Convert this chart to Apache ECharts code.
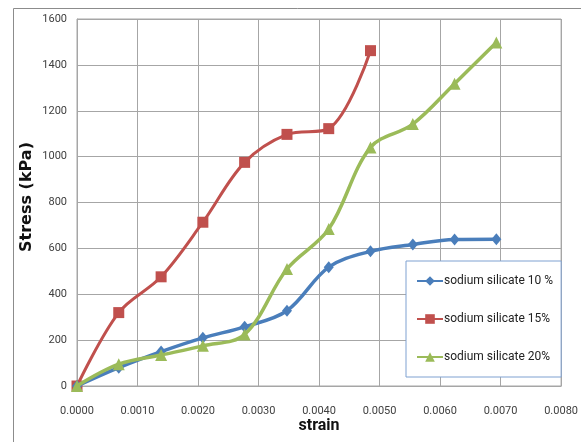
<!DOCTYPE html>
<html>
<head>
<meta charset="utf-8">
<script src="https://cdn.jsdelivr.net/npm/echarts@6/dist/echarts.min.js"></script>
<style>
  html, body { margin: 0; padding: 0; background: #fff; }
  #chart { width: 581px; height: 442px; }
</style>
</head>
<body>
<div id="chart"></div>
<script>
// Strain readings (shared by all three mixes)
var strain = [0, 0.00069, 0.00139, 0.00208, 0.00277, 0.00347, 0.00416, 0.00485, 0.00555, 0.00624, 0.00693];

// Stress (kPa) for each sodium silicate content
var stress10 = [0, 80, 150, 210, 258, 328, 518, 587, 617, 639, 640];
var stress15 = [0, 320, 476, 714, 975, 1097, 1122, 1462];
var stress20 = [0, 95, 135, 175, 225, 510, 684, 1040, 1142, 1318, 1498];

var seriesNames = ['sodium silicate 10 %', 'sodium silicate 15%', 'sodium silicate 20%'];
var xTicks = { min: 0, max: 0.008, step: 0.001 };
var yTicks = { min: 0, max: 1600, step: 200 };

function pairs(values) {
  return values.map(function (v, i) { return [strain[i], v]; });
}

var labelFont = '"Liberation Sans Narrow", Roboto, sans-serif';
var chart = echarts.init(document.getElementById('chart'), null, { renderer: 'canvas' });

chart.setOption({
  animation: false,
  backgroundColor: '#fff',
  grid: { left: 77, top: 19, right: 19, bottom: 56, show: true, borderColor: '#a6a6a6', borderWidth: 1 },
  xAxis: {
    type: 'value',
    min: xTicks.min, max: xTicks.max, interval: xTicks.step,
    axisLine: { show: true, onZero: false, lineStyle: { color: '#a6a6a6' } },
    axisTick: { show: false },
    splitLine: { show: true, lineStyle: { color: '#a6a6a6', width: 1 } },
    axisLabel: {
      color: '#404040', fontFamily: labelFont, fontSize: 11, margin: 20,
      formatter: function (v) { return v.toFixed(4); }
    }
  },
  yAxis: {
    type: 'value',
    min: yTicks.min, max: yTicks.max, interval: yTicks.step,
    axisLine: { show: true, lineStyle: { color: '#a6a6a6' } },
    axisTick: { show: false },
    splitLine: { show: true, lineStyle: { color: '#a6a6a6', width: 1 } },
    axisLabel: {
      color: '#404040', fontFamily: labelFont, fontSize: 11, margin: 10,
      formatter: function (v) { return String(v); }
    }
  },
  legend: {
    orient: 'vertical',
    left: 406, top: 261,
    width: 156,
    padding: [14, 8, 14, 10],
    itemGap: 26,
    itemWidth: 26, itemHeight: 12,
    backgroundColor: '#fff',
    borderColor: '#7ea1d1',
    borderWidth: 1,
    textStyle: { fontFamily: labelFont, fontSize: 12, color: '#222', padding: [0, 10, 0, -4] },
    data: seriesNames
  },
  graphic: [
    {
      type: 'rect', silent: true, z: -1,
      shape: { x: 13.5, y: 8.5, width: 620, height: 500 },
      style: { fill: 'none', stroke: '#8c8c8c', lineWidth: 1 }
    },
    {
      type: 'text', x: 27, y: 197, rotation: Math.PI / 2,
      style: {
        text: 'Stress (kPa)', fill: '#111', font: 'bold 16px "DejaVu Sans"',
        textAlign: 'center', textVerticalAlign: 'middle'
      }
    },
    {
      type: 'text', x: 319, y: 426,
      style: {
        text: 'strain', fill: '#111', font: 'bold 16px Roboto',
        textAlign: 'center', textVerticalAlign: 'middle'
      }
    }
  ],
  series: [
    {
      name: seriesNames[0], type: 'line', smooth: 0.35,
      data: pairs(stress10),
      symbol: 'diamond', symbolSize: [10, 12],
      lineStyle: { color: '#4a7ebb', width: 3.5 },
      itemStyle: { color: '#4a7ebb' }, z: 3
    },
    {
      name: seriesNames[1], type: 'line', smooth: 0.35,
      data: pairs(stress15),
      symbol: 'rect', symbolSize: 11,
      lineStyle: { color: '#c0504d', width: 3 },
      itemStyle: { color: '#c0504d' }, z: 2
    },
    {
      name: seriesNames[2], type: 'line', smooth: 0.35,
      data: pairs(stress20),
      symbol: 'triangle', symbolSize: 12,
      lineStyle: { color: '#9bbb59', width: 3.5 },
      itemStyle: { color: '#9bbb59' }, z: 4
    }
  ]
});
</script>
</body>
</html>
